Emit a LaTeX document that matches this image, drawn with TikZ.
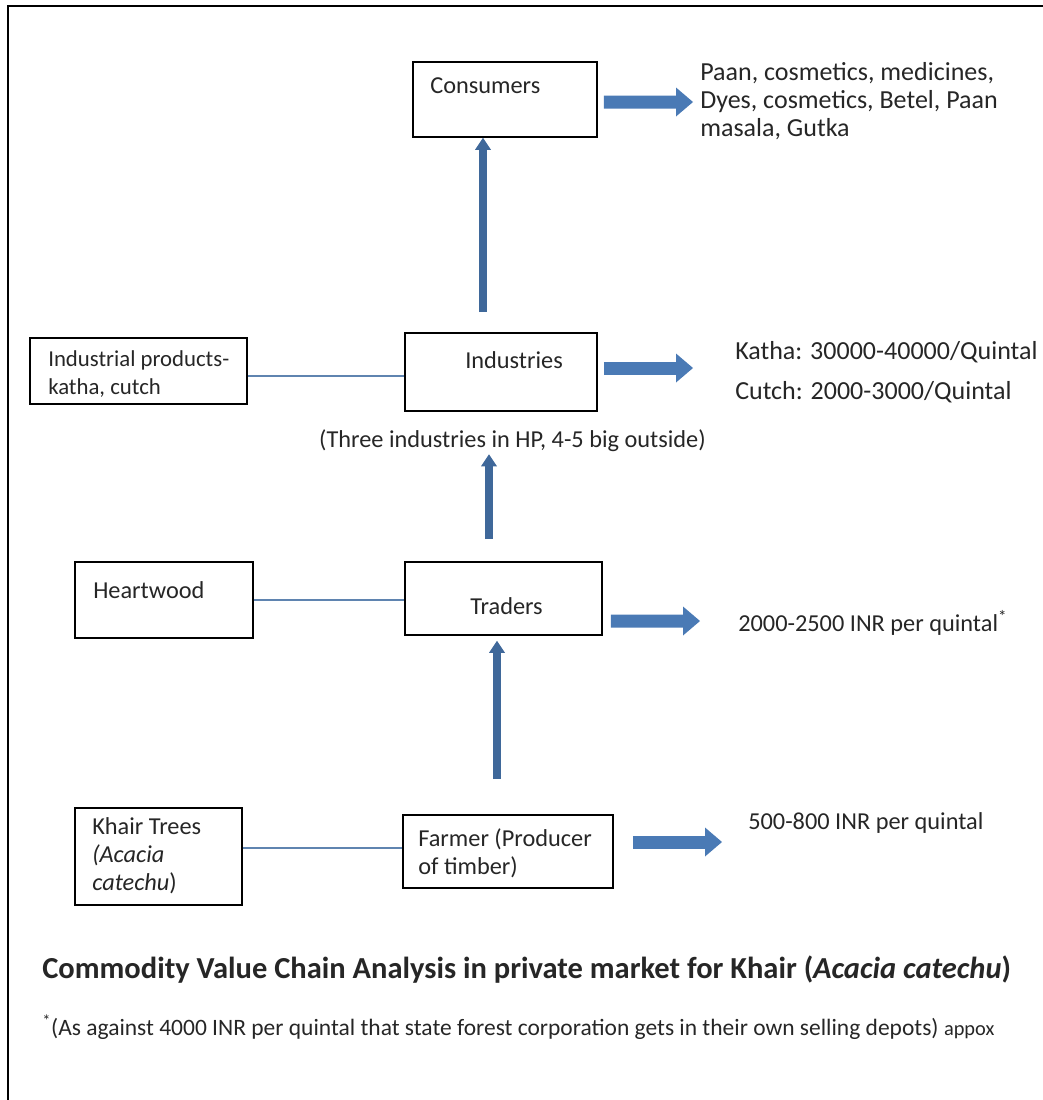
\documentclass[tikz,border=0pt]{standalone}
\usepackage{fontspec}
\setmainfont{Carlito}
\usepackage{tikz}
\usetikzlibrary{arrows.meta, positioning, calc}
\definecolor{arrowblue}{HTML}{4A7AB5}
\definecolor{linkblue}{HTML}{5F84B0}
\tikzset{%
	value box/.style={
		draw,
		line width=1.1pt,
		inner sep=0pt
	},
	box text/.style={
		inner sep=0pt,
		align=left,
		anchor=west,
		text=black!85,
		font=\fontsize{17.3}{20}\selectfont
	},
	wide text/.style={
		box text,
		font=\fontsize{18.5}{20}\selectfont
	},
	link/.style={linkblue, line width=0.8pt},
	flow right/.style={arrowblue, line width=0.325cm,
		-{Triangle[width=0.725cm, length=0.425cm, line width=0pt]}},
	flow up/.style={arrowblue!85!black, line width=0.2cm,
		-{Triangle[width=0.4cm, length=0.3cm, line width=0pt]}},
}

\begin{document}
\begin{tikzpicture}[x=0.025cm, y=-0.025cm]
			\useasboundingbox (0,0) rectangle (1043,1100);
			% Frame
			\draw[line width=2pt] (8,1100) -- (8,6) -- (1043,6);
			
			% Consumers
			\node[value box, minimum width=4.6cm, minimum height=1.875cm] (consumers) at (505,99.5) {};
			\node[box text] (consumers-t) at (430,86) {Consumers};
			\node[wide text] (uses) at (700,101) {Paan, cosmetics, medicines,\\Dyes, cosmetics, Betel, Paan\\masala, Gutka};
			
			% Industries
			\node[value box, minimum width=5.425cm, minimum height=1.65cm] (industrial) at (138.5,371) {};
			\node[box text, font=\fontsize{16.2}{20}\selectfont] (industrial-t) at (48,374) {Industrial products-\\katha, cutch};
			\node[value box, minimum width=4.8cm, minimum height=1.95cm] (industries) at (501,372) {};
			\node[box text] (industries-t) at (465,360) {Industries};
			\node[wide text] (prices) at (735,372) {Katha: 30000-40000/Quintal\\[0.3cm]Cutch: 2000-3000/Quintal};
			\node[box text, anchor=center] (note) at (512.5,441) {(Three industries in HP, 4-5 big outside)};
			
			% Traders
			\node[value box, minimum width=4.45cm, minimum height=1.9cm] (heartwood) at (164,600) {};
			\node[box text] (heartwood-t) at (93,590) {Heartwood};
			\node[value box, minimum width=4.925cm, minimum height=1.825cm] (traders) at (503.5,598.5) {};
			\node[box text] (traders-t) at (470,606) {Traders};
			\node[box text] (tradval) at (738,623) {2000-2500 INR per quintal\textsuperscript{*}};
			
			% Farmer
			\node[value box, minimum width=4.175cm, minimum height=2.425cm] (khair) at (158.5,856.5) {};
			\node[box text] (khair-t) at (92,856) {Khair Trees\\\textit{(Acacia}\\\textit{catechu})};
			\node[value box, minimum width=5.25cm, minimum height=1.825cm] (farmer) at (508,851.5) {};
			\node[box text] (farmer-t) at (418,853.5) {Farmer (Producer\\of timber)};
			\node[box text] (farmval) at (748,823) {500-800 INR per quintal};
			
			% Links
			\draw[link] ([shift={(0,5)}]industrial.east) -- ([shift={(0,4)}]industries.west);
			\draw[link] (heartwood.east) -- (heartwood.east -| traders.west);
			\draw[link] ([shift={(0,-8.5)}]khair.east) -- ([shift={(0,-3.5)}]farmer.west);
			
			% Flow arrows
			\draw[flow up] ([shift={(-11,-35)}]farmer.north) -- ([shift={(-6.5,5)}]traders.south);
			\draw[flow up] ([shift={(-14.5,-22)}]traders.north) -- ([shift={(-23.5,2)}]note.south);
			\draw[flow up] ([shift={(-18,-20)}]industries.north) -- ([shift={(-22,0)}]consumers.south);
			
			\draw[flow right] ([shift={(6,2.5)}]consumers.east) -- ([shift={(-7,1)}]uses.west);
			\draw[flow right] ([shift={(6,-4)}]industries.east) -- ([shift={(-42,-4)}]prices.west);
			\draw[flow right] ([shift={(8,22.5)}]traders.east) -- ([shift={(-38,-2)}]tradval.west);
			\draw[flow right] ([shift={(19,-9.5)}]farmer.east) -- ([shift={(-26,19)}]farmval.west);
			
			% Caption
			\node[box text, font=\fontsize{21.7}{26}\selectfont\bfseries] (title) at (42,970) {Commodity Value Chain Analysis in private market for Khair (\textit{Acacia catechu})};
			\node[box text, font=\fontsize{16.7}{20}\selectfont] (footnote) at (42,1027) {\textsuperscript{*}(As against 4000 INR per quintal that state forest corporation gets in their own selling depots) {\fontsize{14.5}{16}\selectfont appox}};

		\end{tikzpicture}
\end{document}
